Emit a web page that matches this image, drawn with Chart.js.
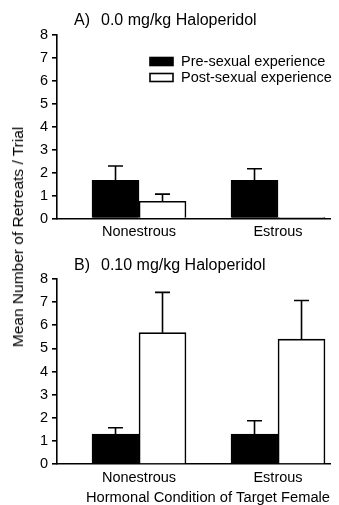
<!DOCTYPE html>
<html>
<head>
<meta charset="utf-8">
<script src="https://cdn.jsdelivr.net/npm/chart.js@4.4.0/dist/chart.umd.min.js"></script>
<style>
  body { margin: 0; background: #fff; }
  #wrap { position: relative; width: 339px; height: 505px; overflow: hidden; }
  canvas { position: absolute; left: 0; }
  #ytitle {
    position: absolute; left: 18px; top: 237px;
    font: 15.5px "Liberation Sans", Arial, sans-serif; white-space: nowrap; color: #000;
    transform: translate(-50%, -50%) rotate(-90deg);
  }
</style>
</head>
<body>
<div id="wrap">
  <canvas id="chartA" width="339" height="246" style="top:0"></canvas>
  <canvas id="chartB" width="339" height="259" style="top:246px"></canvas>
  <div id="ytitle">Mean Number of Retreats / Trial</div>
</div>
<script>
// data
const categories = ['Nonestrous', 'Estrous'];
const seriesNames = ['Pre-sexual experience', 'Post-sexual experience'];
const yTicks = [0, 1, 2, 3, 4, 5, 6, 7, 8];

// A) 0.0 mg/kg
const preA = [1.66, 1.66];
const preAErr = [0.62, 0.50];
const postA = [0.75, 0.05];
const postAErr = [0.31, 0];

// B) 0.10 mg/kg
const preB = [1.29, 1.29];
const preBErr = [0.28, 0.58];
const postB = [5.68, 5.40];
const postBErr = [1.74, 1.67];

const FAMILY = '"Liberation Sans", Arial, Helvetica, sans-serif';

// error bars (up only) with a cap
const errorBars = {
  id: 'errorBars',
  afterDatasetsDraw(chart) {
    const ctx = chart.ctx;
    const yScale = chart.scales.y;
    ctx.save();
    ctx.strokeStyle = '#000';
    ctx.lineWidth = 1.6;
    chart.data.datasets.forEach((ds, i) => {
      chart.getDatasetMeta(i).data.forEach((bar, j) => {
        const err = ds.errors[j];
        if (!err) return;
        const top = yScale.getPixelForValue(ds.data[j].y + err);
        ctx.beginPath();
        ctx.moveTo(bar.x, bar.y);
        ctx.lineTo(bar.x, top);
        ctx.moveTo(bar.x - 7.5, top);
        ctx.lineTo(bar.x + 7.5, top);
        ctx.stroke();
      });
    });
    ctx.restore();
  }
};

// panel heading "A)  0.0 mg/kg Haloperidol"
const panelTitle = {
  id: 'panelTitle',
  afterDraw(chart, args, opts) {
    const ctx = chart.ctx;
    const area = chart.chartArea;
    ctx.save();
    ctx.fillStyle = '#000';
    ctx.font = '16px ' + FAMILY;
    ctx.textBaseline = 'middle';
    ctx.fillText(opts.label, area.left + 17, area.top - 13.5);
    ctx.fillText(opts.text, area.left + 44, area.top - 13.5);
    ctx.restore();
  }
};

// legend inside the plot area
const boxLegend = {
  id: 'boxLegend',
  afterDraw(chart, args, opts) {
    if (!opts.show) return;
    const ctx = chart.ctx;
    const area = chart.chartArea;
    ctx.save();
    ctx.font = '14.5px ' + FAMILY;
    ctx.textBaseline = 'middle';
    chart.data.datasets.forEach((ds, i) => {
      const x = area.left + 93;
      const y = area.top + 23 + i * 16;
      ctx.fillStyle = ds.backgroundColor;
      ctx.fillRect(x, y, 23, 8);
      ctx.strokeStyle = '#000';
      ctx.lineWidth = 1.6;
      ctx.strokeRect(x, y, 23, 8);
      ctx.fillStyle = '#000';
      ctx.fillText(ds.label, x + 31, y + 4);
    });
    ctx.restore();
  }
};

function makeChart(id, pre, preErr, post, postErr, label, text, showLegend, padTop, xHeight, xTitle) {
  const ctx = document.getElementById(id).getContext('2d');
  return new Chart(ctx, {
    type: 'bar',
    data: {
      datasets: [
        {
          label: seriesNames[0],
          data: pre.map((v, i) => ({ x: i + 1, y: v })),
          errors: preErr,
          backgroundColor: '#000',
          borderColor: '#000',
          borderWidth: 1.6
        },
        {
          label: seriesNames[1],
          data: post.map((v, i) => ({ x: i + 1, y: v })),
          errors: postErr,
          backgroundColor: '#fff',
          borderColor: '#000',
          borderWidth: 1.6
        }
      ]
    },
    options: {
      responsive: false,
      animation: false,
      barThickness: 47,
      layout: { padding: { top: padTop, right: 9, left: 0, bottom: 0 } },
      plugins: {
        legend: { display: false },
        tooltip: { enabled: false },
        panelTitle: { label: label, text: text },
        boxLegend: { show: showLegend }
      },
      scales: {
        x: {
          type: 'linear',
          min: 0.41,
          max: 2.374,
          offset: false,
          afterFit: s => { s.height = xHeight; },
          afterBuildTicks: s => { s.ticks = categories.map((c, i) => ({ value: i + 1 })); },
          grid: { display: false, drawTicks: false },
          border: { display: true, color: '#000', width: 1.6 },
          ticks: {
            color: '#000', padding: 5, maxRotation: 0, autoSkip: false,
            font: { family: FAMILY, size: 14.5 },
            callback: v => categories[v - 1]
          },
          title: {
            display: !!xTitle,
            text: xTitle || '',
            align: 'end',
            color: '#000',
            padding: 0,
            font: { family: FAMILY, size: 14.7, lineHeight: 1 }
          }
        },
        y: {
          min: 0,
          max: 8,
          afterFit: s => { s.width = 57; },
          afterBuildTicks: s => { s.ticks = yTicks.map(v => ({ value: v })); },
          grid: { drawOnChartArea: false, drawTicks: true, tickLength: 5, color: '#000', lineWidth: 1.6 },
          border: { display: true, color: '#000', width: 1.6 },
          ticks: { color: '#000', padding: 4, font: { family: FAMILY, size: 14.5 } }
        }
      }
    },
    plugins: [errorBars, panelTitle, boxLegend]
  });
}

makeChart('chartA', preA, preAErr, postA, postAErr, 'A)', '0.0 mg/kg Haloperidol', true, 34.5, 27.5, null);
makeChart('chartB', preB, preBErr, postB, postBErr, 'B)', '0.10 mg/kg Haloperidol', false, 33, 41, 'Hormonal Condition of Target Female');
</script>
</body>
</html>
